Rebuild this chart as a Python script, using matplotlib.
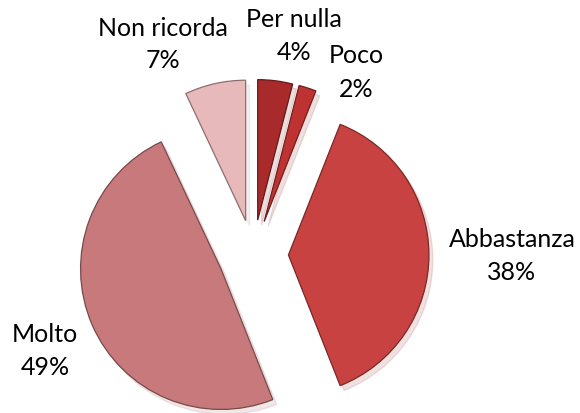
import matplotlib
matplotlib.use("Agg")
import matplotlib.pyplot as plt
import matplotlib.colors as mcolors

categories = ["Per nulla", "Poco", "Abbastanza", "Molto", "Non ricorda"]
values = [4, 2, 38, 49, 7]
pct_labels = ["4%", "2%", "38%", "49%", "7%"]
colors = ["#A82A2A", "#BE3232", "#C94242", "#C8797B", "#E8B9BA"]

W, H = 580, 414
R_PX = 140.5
CX, CY = 253.3, 256.0

fig = plt.figure(figsize=(W / 100, H / 100), dpi=100)
ax = fig.add_axes([0, 0, 1, 1])
ax.axis("off")

wedges, _ = ax.pie(values, explode=[0.25] * len(values), startangle=90,
                   counterclock=False, colors=colors, radius=1.0,
                   wedgeprops=dict(linewidth=0.9),
                   shadow=dict(ox=0.02, oy=-0.025, shade=0.2, alpha=0.15))
for w, c in zip(wedges, colors):
    r, g, b = mcolors.to_rgb(c)
    w.set_edgecolor((r * 0.6, g * 0.6, b * 0.6))

ax.set_xlim(-CX / R_PX, (W - CX) / R_PX)
ax.set_ylim(-(H - CY) / R_PX, CY / R_PX)
ax.set_aspect("auto")

# label positions in pixels (centre x, baseline y of name, baseline y of pct)
label_pos = [(294, 27, 60), (356, 63, 97), (512, 247, 280), (45, 342, 375), (163, 36, 68)]
fs = 18
for name, pct, (x, y1, y2) in zip(categories, pct_labels, label_pos):
    fig.text(x / W, 1 - y1 / H, name, ha="center", va="baseline", fontsize=fs,
             family="Lato", color="black")
    fig.text(x / W, 1 - y2 / H, pct, ha="center", va="baseline", fontsize=fs,
             family="Lato", color="black")

fig.savefig("out.png", dpi=100, facecolor="white")
